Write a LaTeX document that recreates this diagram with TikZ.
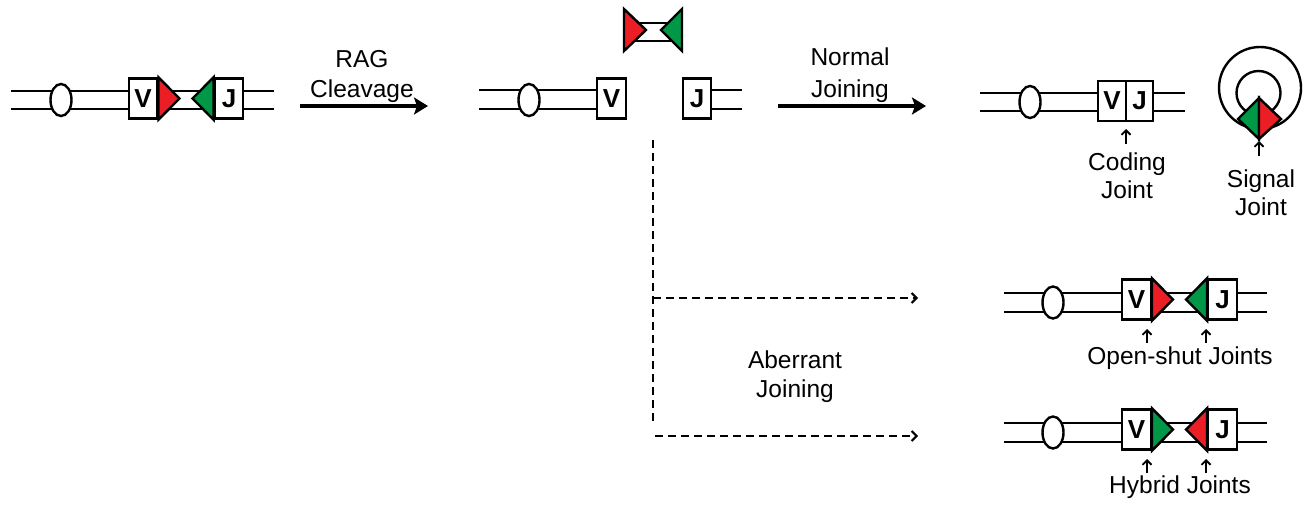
\documentclass[tikz,border=0pt]{standalone}
\usepackage{fontspec}
\setmainfont{Liberation Sans}
\usetikzlibrary{arrows.meta,shapes.geometric,calc}
\definecolor{gred}{RGB}{235,30,38}
\definecolor{ggreen}{RGB}{0,152,70}
\tikzset{
  strandline/.style={line width=2.4pt},
  seg/.style={draw, line width=2.4pt, fill=white, minimum width=28.5pt, minimum height=40pt, inner sep=0pt, font=\bfseries\fontsize{26}{26}\selectfont},
  oval/.style={draw, line width=2.4pt, fill=white, ellipse, minimum width=21pt, minimum height=32pt, inner sep=0pt},
  lbl/.style={font=\fontsize{24.5}{29}\selectfont, anchor=base, inner sep=0pt},
  bigarrow/.style={line width=4pt, -{Stealth[length=14pt,width=17pt,inset=3pt]}},
  dashline/.style={line width=2pt, dash pattern=on 8pt off 5pt},
  dasharrow/.style={dashline, -{Straight Barb[length=5pt,width=10pt,line width=2pt]}},
  uparrow/.style={line width=1.8pt, -{Straight Barb[length=4.5pt,width=9pt,line width=1.8pt]}},
  tri/.style={line width=2.4pt, line join=miter, draw=black},
}
\begin{document}
\begin{tikzpicture}[x=1pt,y=-1pt]
\useasboundingbox (0,0) rectangle (1311,506);

% ---------- Panel 1: germline ----------
\draw[strandline] (11,91) -- (274,91);
\draw[strandline] (11,109) -- (274,109);
\node[oval] (E1) at (61,100) {};
\node[seg] (V1) at (143,98.5) {V};
\node[seg] (J1) at (229,98.5) {J};
\filldraw[tri, fill=gred] (V1.north east) -- ($(V1.east)+(21,0)$) -- (V1.south east) -- cycle;
\filldraw[tri, fill=ggreen] (J1.north west) -- ($(J1.west)+(-21,0)$) -- (J1.south west) -- cycle;

% arrow RAG cleavage
\coordinate (a1s) at (300,106);
\coordinate (a1e) at (428,106);
\draw[bigarrow] (a1s) -- (a1e);
\node[lbl] (t1a) at (362,67) {RAG};
\node[lbl] (t1b) at (362,97) {Cleavage};

% ---------- Panel 2: cleaved ----------
\draw[line width=2.4pt, fill=white] (630,23) rectangle (676,41);
\filldraw[tri, fill=gred] (624,9) -- (646,30) -- (624,51) -- cycle;
\filldraw[tri, fill=ggreen] (682,9) -- (661,30) -- (682,51) -- cycle;

\draw[strandline] (479,90) -- (597,90);
\draw[strandline] (479,109) -- (597,109);
\draw[strandline] (712,90) -- (742,90);
\draw[strandline] (712,109) -- (742,109);
\node[oval] (E2) at (529,100) {};
\node[seg] (V2) at (611.5,98.5) {V};
\node[seg] (J2) at (697,98.5) {J};

% arrow normal joining
\coordinate (a2s) at (778,106);
\coordinate (a2e) at (926,106);
\draw[bigarrow] (a2s) -- (a2e);
\node[lbl] (t2a) at (850,65) {Normal};
\node[lbl] (t2b) at (850,97) {Joining};

% ---------- Panel 3: normal products ----------
\draw[strandline] (980,93) -- (1185,93);
\draw[strandline] (980,111) -- (1185,111);
\node[oval] (E3) at (1030,102) {};
\node[seg, minimum width=27.5pt] (V3) at (1112,101) {V};
\node[seg, minimum width=27.5pt] (J3) at (1139.5,101) {J};
\coordinate (c3a) at (1126,144);
\coordinate (c3b) at (1126,129);
\draw[uparrow] (c3a) -- (c3b);
\node[lbl] (t3a) at (1127,170) {Coding};
\node[lbl] (t3b) at (1127,198) {Joint};

% signal joint circle
\draw[line width=2.4pt] (1260,88) circle (41);
\draw[line width=2.4pt] (1258.5,93) circle (22);
\filldraw[tri, fill=ggreen] (1259,98) -- (1238,119) -- (1259,139) -- cycle;
\filldraw[tri, fill=gred] (1259,98) -- (1281,119) -- (1259,139) -- cycle;
\coordinate (c4a) at (1259,156);
\coordinate (c4b) at (1259,141);
\draw[uparrow] (c4a) -- (c4b);
\node[lbl] (t4a) at (1261,187) {Signal};
\node[lbl] (t4b) at (1261,215) {Joint};

% ---------- Aberrant dashed branch ----------
\coordinate (d0) at (653,140);
\coordinate (d1) at (653,423);
\coordinate (d2s) at (653,298);
\coordinate (d2e) at (918,298);
\coordinate (d3s) at (655,436);
\coordinate (d3e) at (918,436);
\draw[dashline] (d0) -- (d1);
\draw[dasharrow] (d2s) -- (d2e);
\draw[dasharrow] (d3s) -- (d3e);
\node[lbl] (t5a) at (795,368) {Aberrant};
\node[lbl] (t5b) at (795,397) {Joining};

% ---------- Panel 4: open-shut ----------
\draw[strandline] (1004,293) -- (1267,293);
\draw[strandline] (1004,312) -- (1267,312);
\node[oval] (E4) at (1053,302.5) {};
\node[seg] (V4) at (1136.5,299.5) {V};
\node[seg] (J4) at (1222.5,299.5) {J};
\filldraw[tri, fill=gred] (V4.north east) -- ($(V4.east)+(21,0)$) -- (V4.south east) -- cycle;
\filldraw[tri, fill=ggreen] (J4.north west) -- ($(J4.west)+(-21,0)$) -- (J4.south west) -- cycle;
\coordinate (o1a) at (1147,343);
\coordinate (o1b) at (1147,329);
\coordinate (o2a) at (1206,343);
\coordinate (o2b) at (1206,329);
\draw[uparrow] (o1a) -- (o1b);
\draw[uparrow] (o2a) -- (o2b);
\node[lbl] (t6) at (1180,364) {Open-shut Joints};

% ---------- Panel 5: hybrid ----------
\draw[strandline] (1004,423) -- (1267,423);
\draw[strandline] (1004,442) -- (1267,442);
\node[oval] (E5) at (1053,432.5) {};
\node[seg] (V5) at (1136.5,429.5) {V};
\node[seg] (J5) at (1222.5,429.5) {J};
\filldraw[tri, fill=ggreen] (V5.north east) -- ($(V5.east)+(21,0)$) -- (V5.south east) -- cycle;
\filldraw[tri, fill=gred] (J5.north west) -- ($(J5.west)+(-21,0)$) -- (J5.south west) -- cycle;
\coordinate (h1a) at (1147,473);
\coordinate (h1b) at (1147,459);
\coordinate (h2a) at (1206,473);
\coordinate (h2b) at (1206,459);
\draw[uparrow] (h1a) -- (h1b);
\draw[uparrow] (h2a) -- (h2b);
\node[lbl] (t7) at (1180,493) {Hybrid Joints};
\end{tikzpicture}
\end{document}
